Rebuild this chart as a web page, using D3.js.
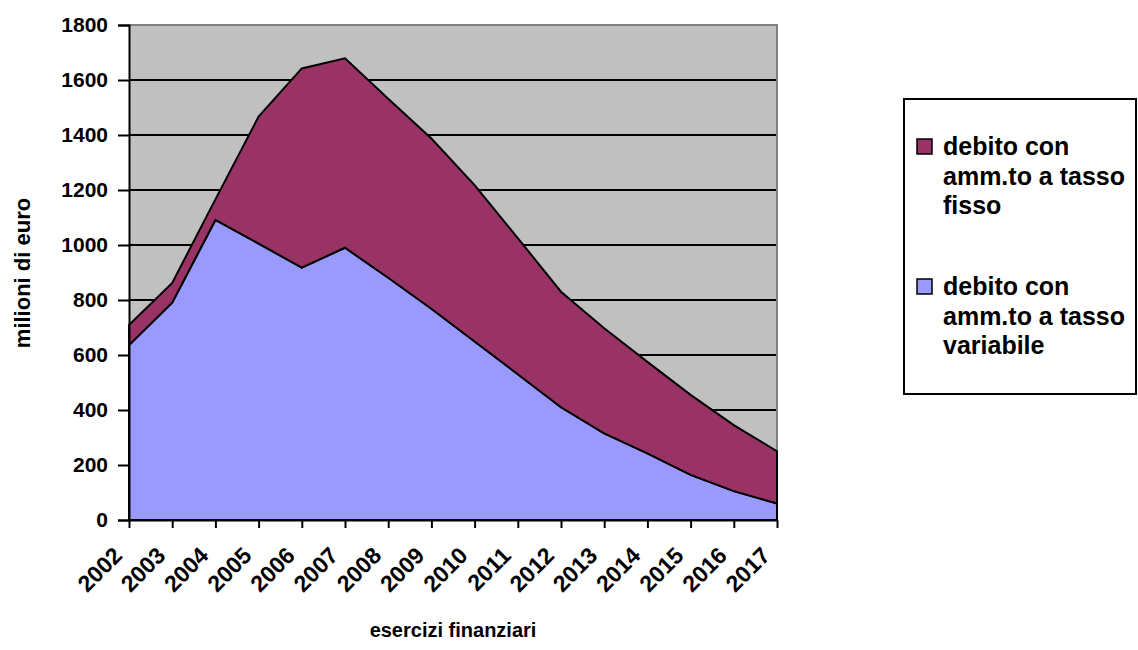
<!DOCTYPE html>
<html>
<head>
<meta charset="utf-8">
<script src="https://cdn.jsdelivr.net/npm/d3@7"></script>
<style>
  body { margin: 0; background: #fff; }
  text { font-family: "Liberation Sans", Arial, sans-serif; font-weight: bold; fill: #000; }
</style>
</head>
<body>
<svg id="chart" width="1138" height="650"></svg>
<script>
// Financial years and outstanding debt (millions of euro)
const years = ["2002","2003","2004","2005","2006","2007","2008","2009","2010","2011","2012","2013","2014","2015","2016","2017"];
const variabile = [636, 790, 1091, 1005, 918, 990, 881, 768, 649, 530, 410, 315, 242, 164, 105, 60];
const fisso     = [73, 72, 75, 462, 724, 689, 651, 619, 569, 495, 420, 382, 333, 291, 240, 190];
const yTicks = [0, 200, 400, 600, 800, 1000, 1200, 1400, 1600, 1800];

const seriesKeys = ["variabile", "fisso"];
const seriesColors = { variabile: "#9999FF", fisso: "#993366" };
const legendItems = [
  { key: "fisso", lines: ["debito con", "amm.to a tasso", "fisso"] },
  { key: "variabile", lines: ["debito con", "amm.to a tasso", "variabile"] }
];

const FONT = '"Liberation Sans", Arial, sans-serif';
const rows = years.map((y, i) => ({ year: y, variabile: variabile[i], fisso: fisso[i] }));

const svg = d3.select("#chart");
const plot = { left: 129, right: 777, top: 25, bottom: 520 };

const x = d3.scalePoint().domain(years).range([plot.left, plot.right]);
const y = d3.scaleLinear().domain([0, 1800]).range([plot.bottom, plot.top]);

// plot background
svg.append("rect")
  .attr("x", plot.left).attr("y", plot.top)
  .attr("width", plot.right - plot.left).attr("height", plot.bottom - plot.top)
  .attr("fill", "#C0C0C0");

// horizontal gridlines
svg.append("g").selectAll("line")
  .data(yTicks.filter(t => t > 0 && t < 1800))
  .join("line")
  .attr("x1", plot.left).attr("x2", plot.right)
  .attr("y1", d => y(d)).attr("y2", d => y(d))
  .attr("stroke", "#000").attr("stroke-width", 2);

// top and right frame of the plot area
svg.append("path")
  .attr("d", `M${plot.left},${plot.top}H${plot.right}V${plot.bottom}`)
  .attr("fill", "none").attr("stroke", "#808080").attr("stroke-width", 2);

// stacked areas
const stack = d3.stack().keys(seriesKeys);
const layers = stack(rows);
const area = d3.area()
  .x(d => x(d.data.year))
  .y0(d => y(d[0]))
  .y1(d => y(d[1]));

svg.append("g").selectAll("path")
  .data(layers)
  .join("path")
  .attr("d", area)
  .attr("fill", d => seriesColors[d.key])
  .attr("stroke", "#000")
  .attr("stroke-width", 2)
  .attr("stroke-linejoin", "miter");

// y axis
const yAxis = svg.append("g")
  .attr("transform", `translate(${plot.left},0)`)
  .call(d3.axisLeft(y).tickValues(yTicks).tickFormat(d3.format("d")).tickSize(11).tickPadding(10));
yAxis.select(".domain").attr("stroke", "#000").attr("stroke-width", 2);
yAxis.selectAll(".tick line").attr("stroke", "#000").attr("stroke-width", 2);
yAxis.selectAll(".tick text")
  .style("font-family", FONT)
  .style("font-weight", "bold").style("font-size", "21px").attr("fill", "#000");

// x axis
const xAxis = svg.append("g")
  .attr("transform", `translate(0,${plot.bottom})`)
  .call(d3.axisBottom(x).tickSize(8).tickSizeOuter(0));
xAxis.select(".domain").attr("stroke", "#000").attr("stroke-width", 2);
xAxis.selectAll(".tick line").attr("stroke", "#000").attr("stroke-width", 2);
xAxis.selectAll(".tick text")
  .style("font-family", FONT)
  .style("font-weight", "bold").style("font-size", "23px").attr("fill", "#000")
  .attr("text-anchor", "end")
  .attr("x", 0).attr("y", 0).attr("dy", 0)
  .attr("transform", "translate(-6,37) rotate(-45)");

// axis titles
svg.append("text")
  .attr("x", 453).attr("y", 637)
  .attr("text-anchor", "middle")
  .style("font-size", "20px")
  .text("esercizi finanziari");

svg.append("text")
  .attr("transform", "translate(30,273) rotate(-90)")
  .attr("text-anchor", "middle")
  .style("font-size", "22px")
  .text("milioni di euro");

// legend
const legend = svg.append("g");
legend.append("rect")
  .attr("x", 904).attr("y", 99).attr("width", 232).attr("height", 295)
  .attr("fill", "#fff").attr("stroke", "#000").attr("stroke-width", 2);

legendItems.forEach((item, i) => {
  const base = 155 + i * 140;
  legend.append("rect")
    .attr("x", 917).attr("y", base - 16).attr("width", 15).attr("height", 15)
    .attr("fill", seriesColors[item.key]).attr("stroke", "#000").attr("stroke-width", 1.5);
  legend.append("text")
    .attr("x", 943).attr("y", base)
    .style("font-size", "25px")
    .selectAll("tspan")
    .data(item.lines)
    .join("tspan")
    .attr("x", 943)
    .attr("dy", (d, j) => j === 0 ? 0 : 29.5)
    .text(d => d);
});
</script>
</body>
</html>
